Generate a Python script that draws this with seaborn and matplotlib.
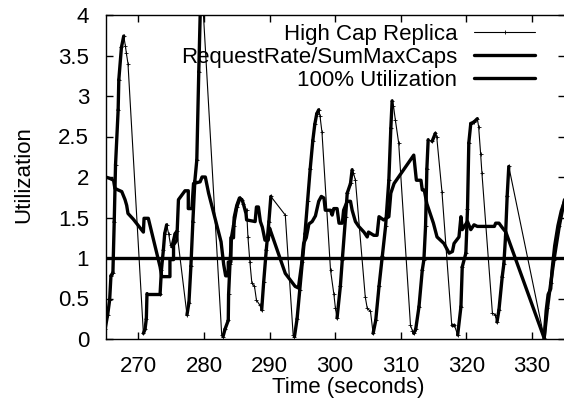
import numpy as np
import pandas as pd
import matplotlib
matplotlib.use("Agg")
import matplotlib.pyplot as plt
from matplotlib.collections import LineCollection
from matplotlib.ticker import FuncFormatter
import seaborn as sns

# Utilization of the high-capacity replica over time (seconds, utilization)
hc_time = [264.9, 265.3, 265.6, 265.8, 266.1, 266.3, 266.5, 266.9, 267.0, 267.4,
           267.75, 268.0, 268.15, 268.4, 270.75, 271.0, 271.2, 271.3, 273.3, 273.5,
           273.8, 274.0, 274.3, 274.6, 274.9, 275.1, 275.6, 275.85, 277.4, 277.7,
           278.0, 278.3, 278.6, 278.9, 279.2, 279.55, 279.9, 282.7, 282.9, 283.2,
           283.7, 283.75, 283.96, 284.2, 284.5, 285.0, 285.5, 285.8, 286.0, 286.5,
           286.7, 287.0, 287.3, 287.7, 288.0, 288.5, 288.8, 289.1, 289.5, 289.9,
           290.2, 292.4, 293.6, 293.8, 294.2, 294.6, 295.0, 295.4, 295.8, 296.2,
           296.6, 296.9, 297.2, 297.5, 297.7, 298.0, 299.3, 299.8, 300.05, 300.3,
           300.8, 301.1, 301.6, 301.85, 302.35, 302.6, 302.8, 303.1, 304.6, 304.9,
           305.4, 305.8, 306.2, 306.7, 307.2, 307.7, 308.2, 308.5, 308.7, 308.9,
           309.2, 309.7, 311.5, 311.8, 312.0, 312.3, 312.8, 313.3, 313.55, 313.8,
           314.0, 314.2, 314.8, 315.3, 315.5, 316.3, 317.8, 318.2, 318.7, 319.2,
           319.4, 319.95, 320.2, 320.4, 320.7, 321.2, 321.7, 321.9, 322.2, 322.4,
           324.0, 324.4, 324.7, 325.0, 325.5, 325.75, 326.0, 326.25, 326.5, 331.9,
           332.4, 332.9, 333.4, 334.2, 335.0]
hc_util = [0.12, 0.30, 0.48, 0.78, 0.82, 1.45, 2.15, 2.83, 3.20, 3.60,
           3.74, 3.62, 3.53, 3.40, 0.07, 0.12, 0.25, 0.56, 0.56, 0.85,
           1.10, 1.30, 1.41, 1.30, 1.16, 1.14, 1.30, 1.33, 0.30, 0.45,
           0.90, 1.45, 1.95, 2.21, 3.30, 4.45, 4.02, 0.05, 0.03, 0.12,
           0.23, 0.55, 0.93, 1.26, 1.40, 1.63, 1.74, 1.72, 1.67, 1.59,
           1.26, 0.95, 0.69, 0.65, 0.48, 0.42, 0.36, 0.70, 1.10, 1.45,
           1.76, 1.53, 0.05, 0.03, 0.25, 0.60, 0.95, 1.30, 1.70, 2.10,
           2.45, 2.65, 2.78, 2.83, 2.75, 2.55, 0.85, 0.56, 0.38, 0.26,
           0.65, 0.98, 1.51, 1.80, 1.92, 2.09, 2.05, 1.96, 0.52, 0.38,
           0.34, 0.07, 0.23, 0.65, 1.02, 1.39, 1.96, 2.60, 2.94, 2.88,
           2.70, 2.42, 0.17, 0.10, 0.07, 0.12, 0.40, 0.85, 0.98, 1.39,
           2.10, 2.46, 2.44, 2.54, 2.50, 1.82, 0.17, 0.17, 0.05, 0.40,
           0.89, 1.06, 1.60, 2.42, 2.66, 2.68, 2.72, 2.62, 2.29, 2.05,
           0.32, 0.30, 0.21, 0.36, 0.77, 0.93, 1.26, 1.76, 2.13, 0.01,
           0.38, 0.69, 0.98, 1.39, 1.72]

# Aggregate request rate divided by the summed maximum capacities
req_time = [265.0, 265.7, 266.2, 266.4, 266.9, 267.45, 267.95, 268.2, 268.4, 269.2,
            270.75, 270.85, 271.5, 271.8, 273.3, 273.55, 274.8, 274.8, 275.35, 275.35,
            275.85, 276.1, 277.1, 277.6, 277.6, 278.15, 278.4, 279.4, 279.7, 280.2,
            280.7, 282.6, 283.0, 283.3, 283.7, 283.7, 284.1, 284.1, 284.5, 284.6,
            285.0, 285.4, 285.8, 286.0, 286.4, 286.5, 287.8, 288.0, 288.3, 288.6,
            288.9, 289.3, 289.8, 290.0, 290.3, 292.4, 293.9, 294.4, 294.9, 295.2,
            295.6, 296.0, 296.5, 297.0, 297.5, 297.9, 298.3, 298.5, 299.3, 299.55,
            299.8, 300.3, 300.6, 301.1, 301.3, 301.85, 302.35, 302.6, 303.1, 303.6,
            304.4, 304.9, 305.1, 305.9, 306.4, 306.7, 307.4, 308.2, 308.5, 309.0,
            312.0, 312.4, 313.1, 313.3, 313.6, 314.0, 315.0, 315.55, 316.6, 317.4,
            317.9, 318.15, 318.9, 319.2, 319.4, 320.2, 320.7, 321.2, 321.7, 324.3,
            324.5, 325.0, 325.55, 326.05, 331.9, 332.2, 332.5, 332.9, 333.1, 333.5,
            334.0, 334.5, 335.0]
req_util = [2.00, 1.98, 1.96, 1.86, 1.84, 1.82, 1.72, 1.65, 1.55, 1.48,
            1.32, 1.49, 1.49, 1.39, 0.89, 0.77, 0.77, 0.98, 0.98, 1.16,
            1.22, 1.72, 1.83, 1.83, 1.61, 1.61, 1.92, 1.94, 2.00, 2.00,
            1.80, 1.20, 0.92, 0.78, 0.78, 0.95, 0.95, 1.25, 1.25, 1.50,
            1.65, 1.74, 1.72, 1.67, 1.55, 1.47, 1.45, 1.63, 1.63, 1.45,
            1.38, 1.22, 1.22, 1.37, 1.30, 0.81, 0.65, 0.63, 0.93, 1.18,
            1.25, 1.42, 1.45, 1.52, 1.70, 1.76, 1.74, 1.59, 1.59, 1.53,
            1.61, 1.61, 1.43, 1.43, 1.59, 1.70, 1.70, 1.59, 1.45, 1.39,
            1.32, 1.26, 1.32, 1.28, 1.28, 1.51, 1.47, 1.51, 1.80, 1.92,
            2.27, 1.96, 1.96, 1.84, 1.84, 1.67, 1.43, 1.26, 1.18, 1.06,
            1.08, 1.18, 1.26, 1.51, 1.35, 1.45, 1.35, 1.41, 1.39, 1.39,
            1.43, 1.43, 1.37, 1.32, 0.01, 0.35, 0.55, 0.62, 0.85, 1.15,
            1.40, 1.58, 1.70]

full_util = 1.0
x_ticks = [270, 280, 290, 300, 310, 320, 330]
y_ticks = [0, 0.5, 1, 1.5, 2, 2.5, 3, 3.5, 4]

sns.set_theme(style="ticks")
plt.rcParams["font.family"] = ["Liberation Sans", "DejaVu Sans"]
plt.rcParams.update({
    "font.size": 16,
    "text.color": "black",
    "axes.labelcolor": "black",
    "axes.edgecolor": "black",
    "xtick.color": "black",
    "ytick.color": "black",
})

W, H = 564, 413
fig = plt.figure(figsize=(W / 100, H / 100), dpi=100)
left, right, top, bottom = 105.7, 564.5, 15.0, 339.0
ax = fig.add_axes([left / W, 1 - bottom / H, (right - left) / W, (bottom - top) / H])

hc = pd.DataFrame({"time": hc_time, "util": hc_util})
req = pd.DataFrame({"time": req_time, "util": req_util})

sns.lineplot(data=hc, x="time", y="util", ax=ax, sort=False, estimator=None,
             color="black", lw=0.8, marker="+", markersize=3.5, mew=0.6,
             mec="black", label="High Cap Replica")

# rising stretches are sampled densely and read as a heavy stroke
pts = np.column_stack([hc["time"], hc["util"]])
segs = np.stack([pts[:-1], pts[1:]], axis=1)
rising = np.diff(hc["util"].to_numpy()) >= 0
ax.add_collection(LineCollection(segs[rising], colors="black", linewidths=2.4,
                                 capstyle="round", joinstyle="round"))

sns.lineplot(data=req, x="time", y="util", ax=ax, sort=False, estimator=None,
             color="black", lw=2.4, label="RequestRate/SumMaxCaps")
ax.axhline(full_util, color="black", lw=2.4, label="100% Utilization")

ax.set_xlim(265, 335)
ax.set_ylim(0, 4)
ax.set_xticks(x_ticks)
ax.set_yticks(y_ticks)
ax.yaxis.set_major_formatter(FuncFormatter(lambda v, p: f"{v:g}"))
ax.tick_params(direction="in", length=5, width=1, top=True, right=True, labelsize=16)
ax.tick_params(axis="x", pad=12)
ax.tick_params(axis="y", pad=12)
for s in ax.spines.values():
    s.set_linewidth(1.0)

ax.set_xlabel("Time (seconds)", fontsize=16)
ax.xaxis.set_label_coords(0.528, -0.15)
ax.xaxis.label.set_va("center")
ax.set_ylabel("Utilization", fontsize=16)
ax.yaxis.set_label_coords(-0.178, 0.509)
ax.yaxis.label.set_va("center")

ax.legend(loc="upper right", bbox_to_anchor=(0.936, 0.973), frameon=False,
          markerfirst=False, handlelength=2.75, handletextpad=0.75,
          labelspacing=0.095, borderaxespad=0, borderpad=0, fontsize=16)

fig.savefig("out.png", dpi=100)
